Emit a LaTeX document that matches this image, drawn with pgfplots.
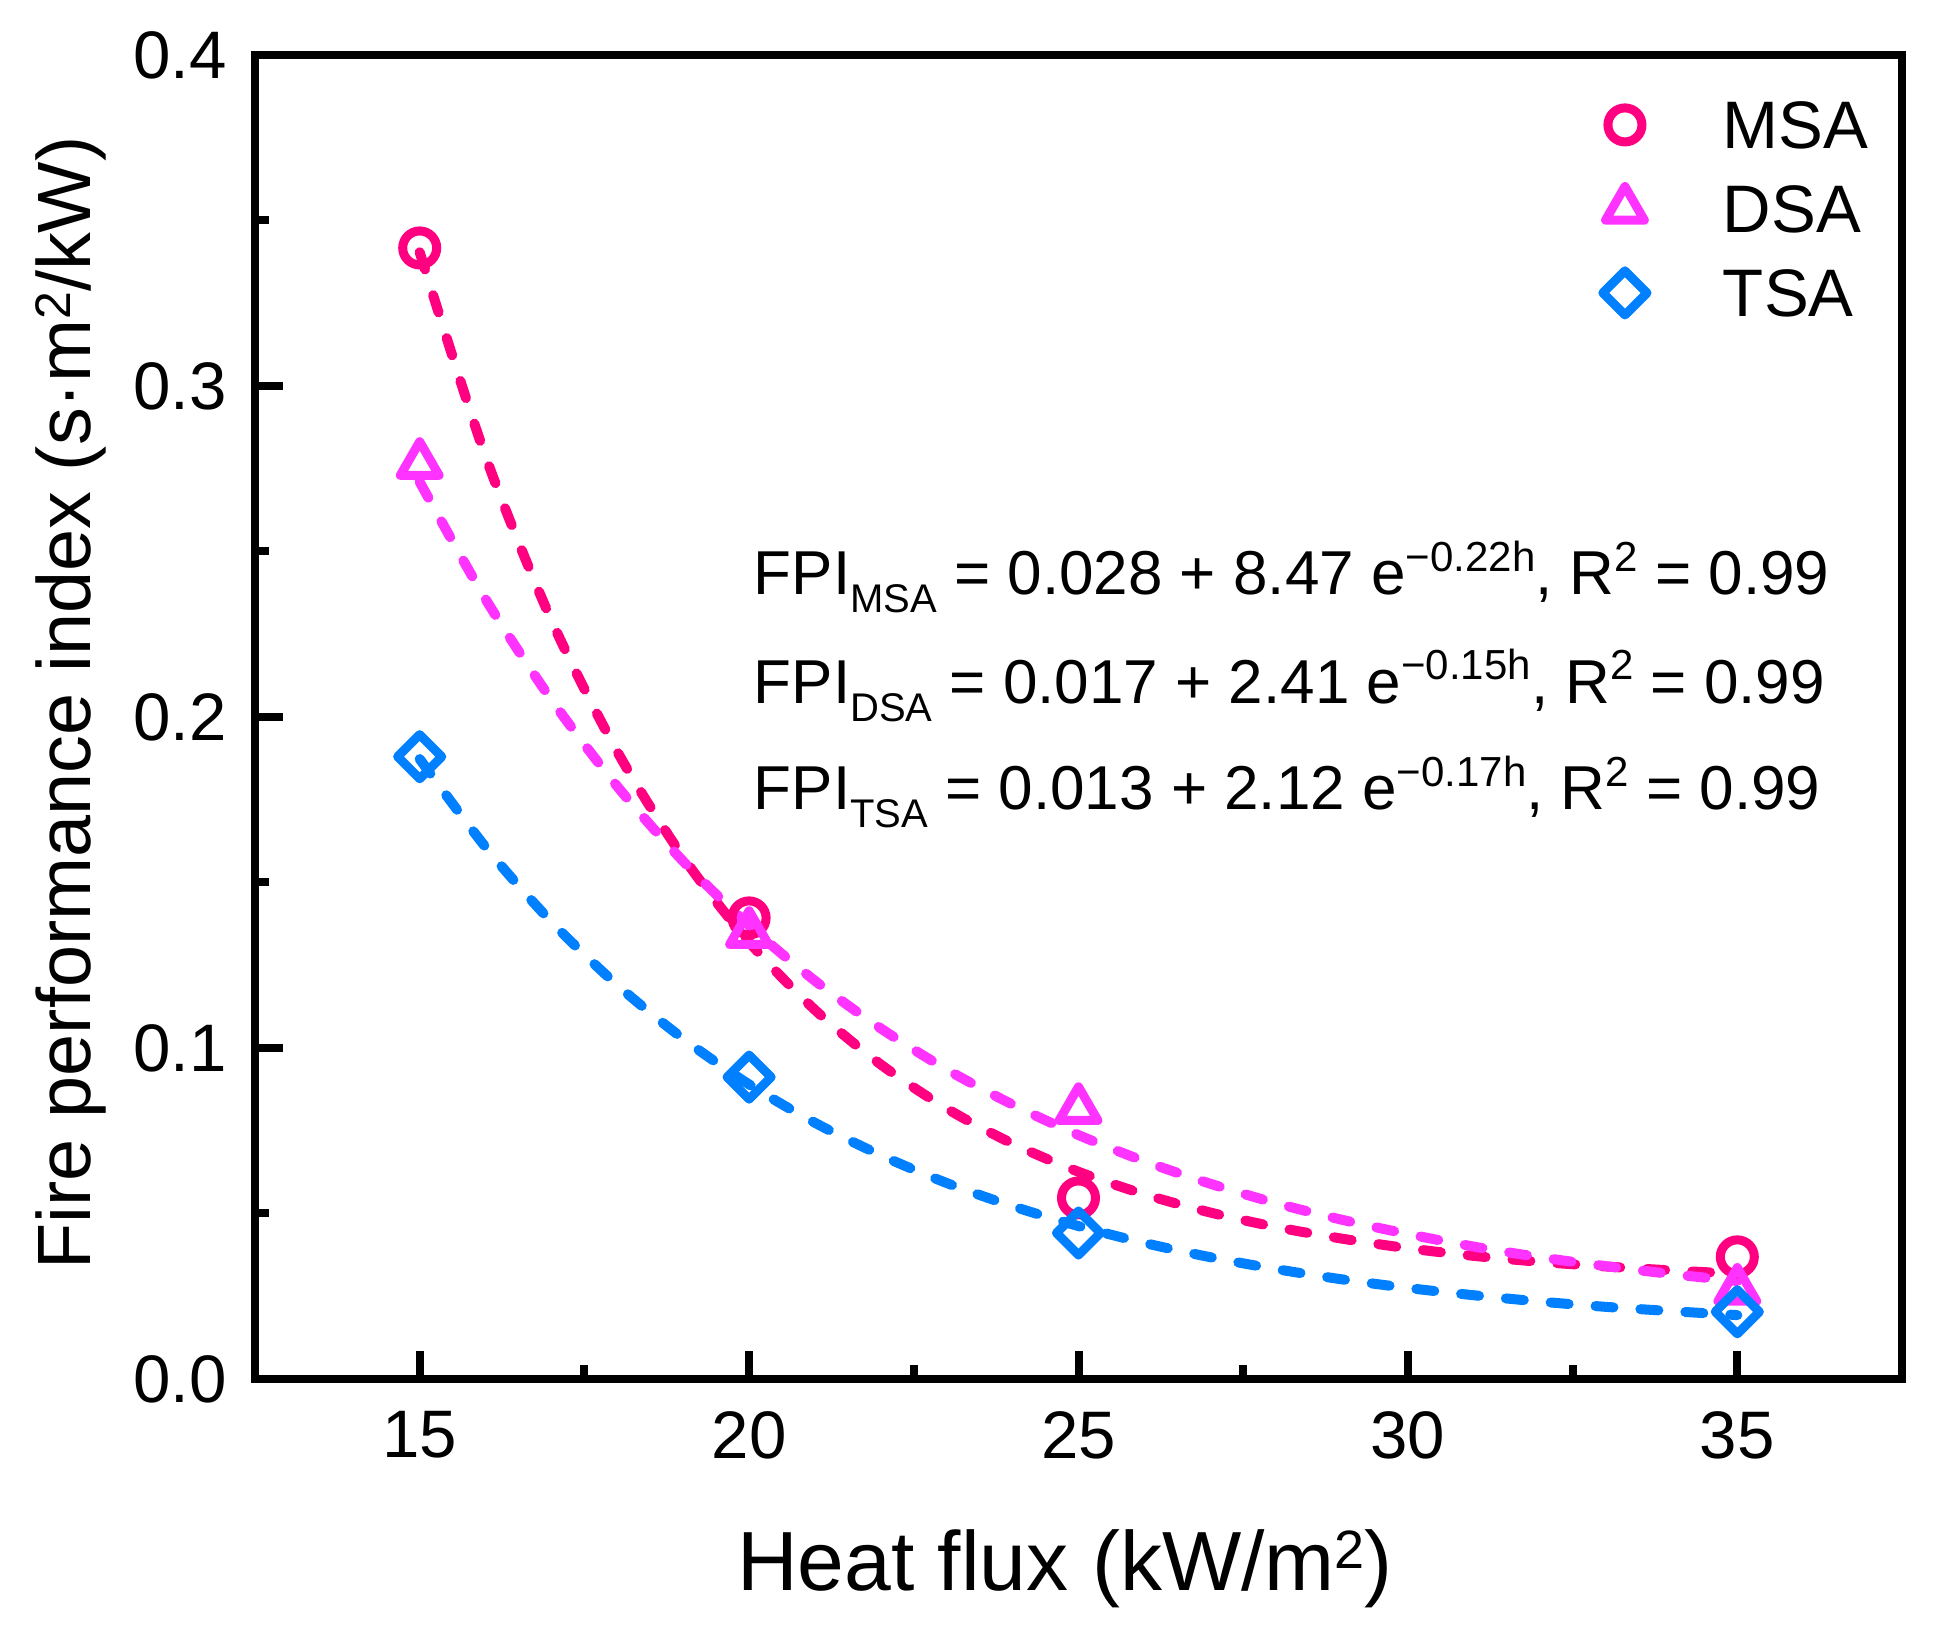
\documentclass[border=0pt]{standalone}
\usepackage{pgfplots}
\usepackage{pgfplotstable}
\pgfplotsset{compat=1.18}
\usepackage{fontspec}
\setmainfont{Liberation Sans}
\usetikzlibrary{calc}

\definecolor{cmsa}{RGB}{255,0,128}
\definecolor{cdsa}{RGB}{255,51,255}
\definecolor{ctsa}{RGB}{0,128,255}

\newcommand\sub[1]{\raisebox{-4.5pt}{\fontsize{10}{11}\selectfont #1}}
\newcommand\sups[1]{\raisebox{5.8pt}{\fontsize{10.5}{11}\selectfont #1}}

% measured points
\pgfplotstableread{
h    msa     dsa     tsa
15   0.3417  0.2764  0.1880
20   0.1393  0.1347  0.0912
25   0.0547  0.0815  0.0441
35   0.0369  0.0269  0.0203
}\pts

% fitted curves
\pgfplotstableread{
h    msa     dsa     tsa
15   0.3404  0.2710  0.1873
16   0.2787  0.2356  0.1607
17   0.2292  0.2052  0.1381
18   0.1895  0.1790  0.1190
19   0.1576  0.1564  0.1028
20   0.1320  0.1370  0.0890
21   0.1115  0.1203  0.0774
22   0.0950  0.1059  0.0676
23   0.0817  0.0935  0.0592
24   0.0711  0.0829  0.0522
25   0.0626  0.0737  0.0462
26   0.0558  0.0658  0.0411
27   0.0503  0.0590  0.0368
28   0.0459  0.0531  0.0332
29   0.0424  0.0481  0.0301
30   0.0395  0.0438  0.0275
31   0.0372  0.0400  0.0253
32   0.0354  0.0368  0.0234
33   0.0340  0.0341  0.0218
34   0.0328  0.0317  0.0205
35   0.0318  0.0296  0.0193
}\fits

\begin{document}
\begin{tikzpicture}
\begin{axis}[
    name=ax,
    scale only axis,
    width=411.75pt, height=331pt,
    xmin=12.5, xmax=37.5,
    ymin=0, ymax=0.4,
    xtick={15,20,25,30,35},
    ytick={0,0.1,0.2,0.3,0.4},
    minor x tick num=1,
    minor y tick num=1,
    tick align=inside,
    xtick pos=bottom, ytick pos=left,
    major tick length=7pt, minor tick length=3.5pt,
    every tick/.style={black, line width=2pt},
    axis line style={line width=2pt},
    /pgf/number format/assume math mode=true,
    yticklabel style={/pgf/number format/fixed, /pgf/number format/fixed zerofill, /pgf/number format/precision=1, xshift=-3.6pt},
    tick label style={font=\fontsize{16.8}{20}\selectfont},
    xticklabel style={yshift=-4.6pt},
    xlabel={Heat flux (kW/m\raisebox{5.5pt}{\fontsize{13.5}{14}\selectfont 2})},
    xlabel style={font=\fontsize{21}{24}\selectfont, at={(axis description cs:0.4918,-0.1594)}, anchor=base, inner sep=0pt},
    ylabel={Fire performance index (s·m\raisebox{5pt}{\fontsize{12.5}{13}\selectfont 2}/kW)},
    ylabel style={font=\fontsize{18.9}{22}\selectfont, at={(axis description cs:-0.0996,0.0823)}, anchor=base west, inner sep=0pt},
    legend style={draw=none, fill=none, inner sep=0pt, outer sep=0pt,
        at={(axis description cs:0.8172,0.9653)}, anchor=north west,
        column sep=18.5pt, row sep=9pt,
        font=\fontsize{16.8}{20}\selectfont,
        nodes={inner sep=0pt, text height=12pt, text depth=0pt}},
    legend cell align=left,
    legend image code/.code={\path[draw=none, fill=none] (-6pt,-6pt) rectangle (6pt,6pt); \draw[#1] plot coordinates {(0pt,0pt)};},
]
% fits
\addplot[cmsa, line width=2.5pt, line cap=round, dash pattern=on 4.5pt off 6.75pt, smooth, forget plot] table[x=h, y=msa] {\fits};
\addplot[cdsa, line width=2.5pt, line cap=round, dash pattern=on 4.5pt off 6.75pt, smooth, forget plot] table[x=h, y=dsa] {\fits};
\addplot[ctsa, line width=2.5pt, line cap=round, dash pattern=on 4.5pt off 6.75pt, smooth, forget plot] table[x=h, y=tsa] {\fits};
% points
\addplot[only marks, mark=o, mark size=4.25pt, mark options={cmsa, line width=2.25pt, solid}] table[x=h, y=msa] {\pts};
\addlegendentry{MSA}
\addplot[only marks, mark=triangle, mark size=5.6pt, mark options={cdsa, line width=2.25pt, solid, line join=round}] table[x=h, y=dsa] {\pts};
\addlegendentry{DSA}
\addplot[only marks, mark=square, mark size=3.9pt, mark options={ctsa, line width=2.25pt, solid, rotate=45, line join=round}] table[x=h, y=tsa] {\pts};
\addlegendentry{TSA}

\node[anchor=base west, inner sep=0pt, font=\fontsize{15.5}{18}\selectfont] at (axis cs:20.06,0.2369)
  {FPI\sub{MSA} = 0.028 + 8.47 e\sups{−0.22h}, R\sups{2} = 0.99};
\node[anchor=base west, inner sep=0pt, font=\fontsize{15.5}{18}\selectfont] at (axis cs:20.06,0.2042)
  {FPI\sub{DSA} = 0.017 + 2.41 e\sups{−0.15h}, R\sups{2} = 0.99};
\node[anchor=base west, inner sep=0pt, font=\fontsize{15.5}{18}\selectfont] at (axis cs:20.06,0.1719)
  {FPI\sub{TSA} = 0.013 + 2.12 e\sups{−0.17h}, R\sups{2} = 0.99};
\end{axis}
\pgfresetboundingbox
\path[use as bounding box] ($(ax.south west)+(-63.75pt,-64pt)$) rectangle ($(ax.north east)+(8pt,13.75pt)$);
\end{tikzpicture}
\end{document}
